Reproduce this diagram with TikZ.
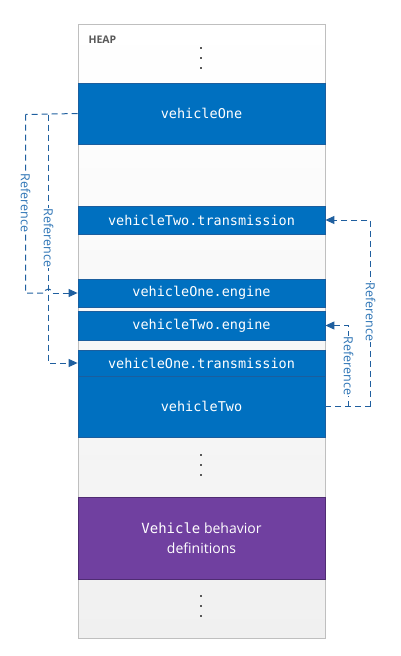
\documentclass[tikz,border=0pt]{standalone}
\usepackage{fontspec}
\setmainfont{Open Sans}
\newfontfamily\monof{DejaVu Sans Mono}
\usetikzlibrary{arrows.meta}
\definecolor{boxblue}{HTML}{0070C0}
\definecolor{boxedge}{HTML}{1B5E9E}
\definecolor{purp}{HTML}{7040A0}
\definecolor{purpedge}{HTML}{4F2C72}
\definecolor{refline}{HTML}{1F5F9F}
\definecolor{reftext}{HTML}{2E75B6}
\definecolor{heapgray}{HTML}{BFBFBF}
\definecolor{heaptext}{HTML}{595959}
\definecolor{dotgray}{HTML}{595959}
\definecolor{bgbottom}{HTML}{F0F0F0}
\tikzset{
  blk/.style={draw=boxedge, line width=0.8pt, fill=boxblue, text=white,
    minimum width=247pt, inner sep=0pt, font=\monof\fontsize{13.5}{16}\selectfont},
  refln/.style={draw=refline, line width=1pt, dash pattern=on 6pt off 4pt},
  refarr/.style={refln, -{Triangle[length=9pt,width=8pt]}},
  reflabel/.style={fill=white, text=reftext, rotate=-90, inner sep=1pt,
    font=\fontsize{12.5}{14}\selectfont}
}
\begin{document}
\begin{tikzpicture}[x=1pt,y=-1pt]
\useasboundingbox (0,0) rectangle (401,656);
\node[draw=heapgray, line width=0.9pt, top color=white, bottom color=bgbottom,
  minimum width=247pt, minimum height=614pt, anchor=north west, inner sep=0pt] (heap) at (78,24) {};
\node[anchor=west, text=heaptext, font=\bfseries\fontsize{10.5}{12}\selectfont] (heaplbl) at (85,40) {HEAP};

% dots
\foreach \y in {48,58,68,455,465,475,596,606,616}
  \fill[dotgray] (199.8,\y-1) rectangle (202,\y+1.2);

\node[blk, minimum height=61pt] (v1) at (201.5,113.5) {vehicleOne};
\node[blk, minimum height=28pt] (v2t) at (201.5,220) {vehicleTwo.transmission};
\node[blk, minimum height=28pt] (v1e) at (201.5,293) {vehicleOne.engine};
\node[blk, minimum height=29pt] (v2e) at (201.5,325.5) {vehicleTwo.engine};
\node[blk, minimum height=26pt] (v1t) at (201.5,363) {vehicleOne.transmission};
\node[blk, minimum height=61pt] (v2) at (201.5,406.5) {vehicleTwo};
\node[draw=purpedge, line width=0.8pt, fill=purp, text=white, minimum width=247pt,
  minimum height=82pt, inner sep=0pt, align=center,
  font=\fontsize{14}{20}\selectfont] (beh) at (201.5,538) {{\monof Vehicle} behavior\\definitions};

% left connectors
\coordinate (l1) at (25.5,114.5);
\coordinate (l2) at (48.5,114.5);
\coordinate (hop) at (44.5,293);
\draw[refln] (v1.west) -- (l1);
\draw[refln] (l1) -- (25.5,293) -- (hop) arc[start angle=180, end angle=0, radius=4pt];
\draw[refarr] (52.5,293) -- (v1e.west);
\draw[refarr] (l2) |- (v1t.west);
\node[reflabel] (lab1) at (25.5,203) {Reference};
\node[reflabel] (lab2) at (48.5,238) {Reference};

% right connectors
\coordinate (r1) at (370.5,406.5);
\coordinate (r2) at (348.5,406.5);
\draw[refln] (v2.east) -- (r1);
\draw[refarr] (r1) |- (v2t.east);
\draw[refarr] (r2) |- (v2e.east);
\node[reflabel] (lab3) at (370.5,312) {Reference};
\node[reflabel] (lab4) at (348.5,366) {Reference};
\end{tikzpicture}
\end{document}
